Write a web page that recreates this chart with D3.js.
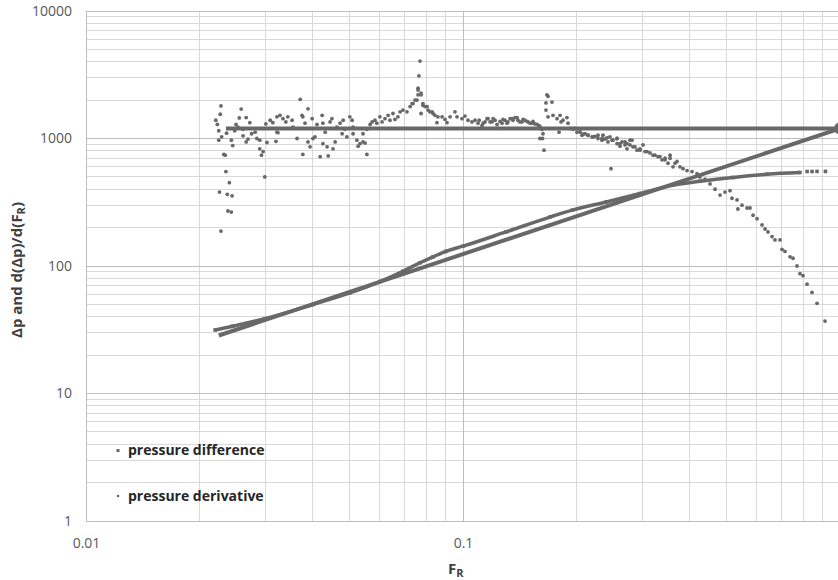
<!DOCTYPE html>
<html>
<head>
<meta charset="utf-8">
<script src="https://cdn.jsdelivr.net/npm/d3@7"></script>
<style>
  body { margin: 0; background: #fff; }
  text { font-family: "Open Sans", "Noto Sans", sans-serif; }
</style>
</head>
<body>
<div id="container"></div>
<script>
// pressure derivative (scattered points)
const derivF = [
  0.0221, 0.0223, 0.0228, 0.0227, 0.0225, 0.0225, 0.0229, 0.0232, 0.0234, 0.0235,
  0.0226, 0.0240, 0.0237, 0.0244, 0.0238, 0.0243, 0.0228, 0.0236, 0.0243, 0.0245,
  0.0250, 0.0248, 0.0258, 0.0255, 0.0253, 0.0261, 0.0266, 0.0269, 0.0266, 0.0272,
  0.0261, 0.0275, 0.0281, 0.0284, 0.0289, 0.0292, 0.0295, 0.0289, 0.0298, 0.0302,
  0.0300, 0.0308, 0.0313, 0.0321, 0.0327, 0.0321, 0.0323, 0.0319, 0.0333, 0.0339,
  0.0343, 0.0352, 0.0354, 0.0363, 0.0370, 0.0374, 0.0376, 0.0381, 0.0388, 0.0388,
  0.0376, 0.0393, 0.0398, 0.0400, 0.0405, 0.0410, 0.0418, 0.0423, 0.0425, 0.0431,
  0.0425, 0.0439, 0.0436, 0.0444, 0.0449, 0.0452, 0.0458, 0.0463, 0.0472, 0.0478,
  0.0481, 0.0486, 0.0492, 0.0501, 0.0508, 0.0511, 0.0511, 0.0523, 0.0527, 0.0533,
  0.0543, 0.0550, 0.0556, 0.0543, 0.0556, 0.0567, 0.0574, 0.0584, 0.0591, 0.0602,
  0.0610, 0.0621, 0.0633, 0.0640, 0.0652, 0.0660, 0.0672, 0.0681, 0.0693, 0.0710,
  0.0724, 0.0737, 0.0755, 0.0760, 0.0760, 0.0774, 0.0783, 0.0803, 0.0774, 0.0817,
  0.0833, 0.0853, 0.0858,
  0.0769, 0.0764, 0.0760, 0.0774, 0.0746, 0.0733, 0.0783, 0.0793, 0.0808, 0.0828,
  0.0843, 0.0880, 0.0896, 0.0907, 0.0924, 0.0952, 0.0964, 0.0994, 0.1012, 0.1031,
  0.1056, 0.1076, 0.1096, 0.1123, 0.1144, 0.1165, 0.1194, 0.1216, 0.1238, 0.1269,
  0.1292, 0.1316, 0.1349, 0.1374, 0.1399, 0.1434, 0.1460, 0.1487, 0.1524, 0.1552,
  0.1591, 0.1620, 0.1630, 0.1600, 0.1625, 0.1640, 0.1670, 0.1681, 0.1660, 0.1722,
  0.1660, 0.1681, 0.1733, 0.1776, 0.1809, 0.1842, 0.1887, 0.1820, 0.1899, 0.1798,
  0.1922, 0.1958, 0.2006, 0.2044, 0.2069, 0.2107, 0.2146, 0.2199, 0.2239, 0.2281,
  0.2337, 0.2380, 0.2424, 0.2469, 0.2500, 0.2562, 0.2609, 0.2690, 0.2723, 0.2773,
  0.2824, 0.2894,
  0.1104, 0.1131, 0.1158, 0.1180, 0.1202, 0.1231, 0.1254, 0.1277, 0.1308, 0.1333,
  0.1357, 0.1391, 0.1416, 0.1443, 0.1478, 0.1506, 0.1534, 0.1572, 0.1601,
  0.1982, 0.2044, 0.2081, 0.2146, 0.2213, 0.2281, 0.2337, 0.2410, 0.2485, 0.2562,
  0.2609, 0.2690, 0.2773, 0.2859, 0.2948, 0.3039, 0.3133, 0.3230, 0.3330, 0.3435,
  0.3542, 0.3651,
  0.2352, 0.2454, 0.2562, 0.2641, 0.2723, 0.2807, 0.2948, 0.3003, 0.3077, 0.3192,
  0.3291, 0.3373, 0.3435, 0.3499, 0.3542, 0.3606, 0.3696, 0.3764, 0.3834, 0.3929,
  0.4050, 0.4176, 0.4253, 0.4385, 0.4521, 0.4662, 0.4806, 0.4955, 0.5109, 0.5171,
  0.5332, 0.5360, 0.5497, 0.5668, 0.5773, 0.5880, 0.6025, 0.6212, 0.6327, 0.6442,
  0.6602, 0.6723, 0.6932, 0.7018, 0.7147, 0.7368, 0.7505, 0.7690, 0.7833, 0.7978,
  0.8176, 0.8430, 0.8690, 0.9125
];
const derivP = [
  1390, 1290, 1800, 1550, 970, 1150, 1030, 750, 740, 550,
  380, 450, 365, 355, 270, 265, 188, 1100, 970, 880,
  1290, 1150, 1700, 1450, 1230, 1050, 940, 990, 1460, 1330,
  1180, 1090, 1120, 1000, 830, 740, 790, 970, 500, 930,
  1300, 1390, 1330, 1480, 1520, 1120, 1110, 950, 1430, 1350,
  1480, 1390, 1230, 1000, 2030, 1520, 1480, 1320, 1710, 940,
  750, 860, 1430, 1000, 1030, 1290, 720, 1520, 1320, 1120,
  910, 730, 860, 1350, 1430, 830, 940, 1230, 1320, 1090,
  1390, 1180, 1030, 1480, 1390, 1230, 1090, 970, 870, 910,
  940, 920, 750, 1090, 1180, 1290, 1350, 1390, 1320, 1480,
  1350, 1430, 1520, 1390, 1570, 1410, 1480, 1620, 1670, 1620,
  1780, 1880, 2000, 2400, 2200, 2200, 1820, 1780, 1570, 1620,
  1570, 1330, 1480,
  4050, 3100, 2480, 2270, 2000, 1880, 1880, 1780, 1670, 1620,
  1520, 1480, 1410, 1330, 1480, 1620, 1480, 1430, 1500, 1390,
  1350, 1390, 1320, 1260, 1350, 1430, 1350, 1390, 1200, 1320,
  1390, 1350, 1430, 1460, 1390, 1350, 1390, 1350, 1320, 1300,
  1260, 1180, 1090, 1000, 1000, 810, 2200, 2140, 1900, 1930,
  1670, 1480, 1520, 1430, 1520, 1390, 1460, 1350, 1320, 1120,
  1200, 1180, 1120, 1180, 1060, 1090, 1060, 1030, 1040, 1000,
  970, 990, 940, 580, 970, 910, 870, 890, 830, 970,
  860, 810,
  1390, 1320, 1430, 1350, 1430, 1290, 1360, 1410, 1320, 1430,
  1390, 1460, 1350, 1410, 1360, 1320, 1360, 1290, 1240,
  1200, 1120, 1080, 1060, 1030, 1060, 1000, 1010, 970, 1000,
  910, 940, 890, 860, 830, 790, 770, 740, 720, 680,
  700, 640,
  1060, 1030, 1000, 940, 910, 970, 810, 890, 790, 740,
  720, 680, 700, 640, 740, 600, 660, 600, 580, 560,
  550, 530, 500, 480, 440, 400, 360, 380, 390, 340,
  330, 280, 300, 285, 285, 250, 235, 210, 195, 185,
  170, 160, 160, 135, 130, 118, 115, 100, 87, 84,
  72, 62, 51, 37
];

// pressure difference (dense points)
const diffF = [0.0220, 0.0245, 0.0298, 0.0400, 0.0501, 0.0602, 0.0693, 0.0769, 0.0833,
  0.0900, 0.1000, 0.1300, 0.1700, 0.1950, 0.2400, 0.2950, 0.3600, 0.4250, 0.5200,
  0.6400, 0.7830, 0.8180, 0.8430, 0.8690, 0.9150];
const diffP = [31.5, 33.7, 38.6, 49.9, 61.5, 75.5, 91, 106, 118,
  130, 143, 185, 242, 274, 318, 370, 430, 462, 495,
  525, 541, 551, 551, 552, 552];
const diffTailCount = 4;

// fitted lines
const flatLineF = [0.0235, 1.0];
const flatLineP = [1200, 1200];
const slopeLineF = [0.0225, 1.0];
const slopeLineP = [28.5, 1200];

const xTicks = [0.01, 0.1];
const yTicks = [1, 10, 100, 1000, 10000];
const legendLabels = ["pressure difference", "pressure derivative"];

const width = 838, height = 580;
const ink = "#686868";

const svg = d3.select("#container")
  .append("svg")
  .attr("width", width)
  .attr("height", height);

const x = d3.scaleLog().domain([0.01, 1]).range([86, 840]);
const y = d3.scaleLog().domain([1, 10000]).range([521, 11]);

// gridlines
const minorX = [], minorY = [];
[0.01, 0.1].forEach(d => { for (let k = 2; k <= 9; k++) minorX.push(d * k); });
[1, 10, 100, 1000].forEach(d => { for (let k = 2; k <= 9; k++) minorY.push(d * k); });

const grid = svg.append("g");
grid.selectAll(".vminor").data(minorX).enter().append("line")
  .attr("x1", d => x(d)).attr("x2", d => x(d))
  .attr("y1", y(1)).attr("y2", y(10000))
  .attr("stroke", "#d9d9d9").attr("stroke-width", 1);
grid.selectAll(".hminor").data(minorY).enter().append("line")
  .attr("x1", x(0.01)).attr("x2", x(1))
  .attr("y1", d => y(d)).attr("y2", d => y(d))
  .attr("stroke", "#d9d9d9").attr("stroke-width", 1);
grid.selectAll(".vmajor").data([0.01, 0.1, 1]).enter().append("line")
  .attr("x1", d => x(d)).attr("x2", d => x(d))
  .attr("y1", y(1)).attr("y2", y(10000))
  .attr("stroke", "#bdbdbd").attr("stroke-width", 1);
grid.selectAll(".hmajor").data(yTicks).enter().append("line")
  .attr("x1", x(0.01)).attr("x2", x(1))
  .attr("y1", d => y(d)).attr("y2", d => y(d))
  .attr("stroke", "#bdbdbd").attr("stroke-width", 1);
grid.selectAll("line").attr("shape-rendering", "crispEdges");

// axes
const xAxis = svg.append("g")
  .attr("transform", `translate(0,${y(1)})`)
  .call(d3.axisBottom(x).tickValues(xTicks).tickSize(0).tickPadding(17)
    .tickFormat(d3.format("")));
const yAxis = svg.append("g")
  .attr("transform", `translate(${x(0.01)},0)`)
  .call(d3.axisLeft(y).tickValues(yTicks).tickSize(0).tickPadding(14)
    .tickFormat(d3.format("d")));
[xAxis, yAxis].forEach(a => {
  a.select(".domain").remove();
  a.selectAll("text")
    .style("font-size", "14px")
    .style("font-family", "'Open Sans', sans-serif")
    .attr("fill", "#595959");
});

// lines
const line = d3.line().x(d => x(d[0])).y(d => y(d[1]));

svg.append("path")
  .datum(flatLineF.map((f, i) => [f, flatLineP[i]]))
  .attr("fill", "none").attr("stroke", ink).attr("stroke-width", 4)
  .attr("d", line);

svg.append("path")
  .datum(slopeLineF.map((f, i) => [f, slopeLineP[i]]))
  .attr("fill", "none").attr("stroke", ink).attr("stroke-width", 4)
  .attr("d", line);

svg.append("circle")
  .attr("cx", x(slopeLineF[1])).attr("cy", y(slopeLineP[1]))
  .attr("r", 6).attr("fill", ink);

// pressure difference
const diffPts = diffF.map((f, i) => [f, diffP[i]]);
svg.append("path")
  .datum(diffPts.slice(0, diffPts.length - diffTailCount))
  .attr("fill", "none").attr("stroke", ink).attr("stroke-width", 3.5)
  .attr("stroke-linejoin", "round")
  .attr("d", d3.line().x(d => x(d[0])).y(d => y(d[1])).curve(d3.curveMonotoneX));

svg.selectAll(".diff")
  .data(diffPts)
  .enter()
  .append("rect")
  .attr("x", d => x(d[0]) - 1.8)
  .attr("y", d => y(d[1]) - 1.8)
  .attr("width", 3.6).attr("height", 3.6)
  .attr("fill", ink);

// pressure derivative
svg.selectAll(".deriv")
  .data(derivF.map((f, i) => [f, derivP[i]]))
  .enter()
  .append("circle")
  .attr("cx", d => x(d[0]))
  .attr("cy", d => y(d[1]))
  .attr("r", 1.9)
  .attr("fill", ink);

// legend
const legend = svg.append("g");
legend.append("rect")
  .attr("x", 116.5).attr("y", 449).attr("width", 3).attr("height", 3)
  .attr("fill", ink);
legend.append("circle")
  .attr("cx", 118).attr("cy", 496).attr("r", 1.3)
  .attr("fill", ink);
legend.selectAll("text")
  .data(legendLabels)
  .enter()
  .append("text")
  .attr("x", 128)
  .attr("y", (d, i) => 455 + i * 46)
  .style("font-size", "14px")
  .style("font-weight", "bold")
  .attr("fill", "#262626")
  .text(d => d);

// axis titles
const xTitle = svg.append("text")
  .attr("x", 448)
  .attr("y", 574)
  .style("font-size", "15px")
  .style("font-weight", "bold")
  .attr("fill", "#404040");
xTitle.append("tspan").text("F");
xTitle.append("tspan").attr("dy", 3).style("font-size", "11px").text("R");

const yTitle = svg.append("text")
  .attr("transform", "translate(22,270) rotate(-90)")
  .attr("text-anchor", "middle")
  .style("font-size", "15px")
  .style("font-weight", "bold")
  .attr("fill", "#404040");
yTitle.append("tspan").text("Δp and d(Δp)/d(F");
yTitle.append("tspan").attr("dy", 3).style("font-size", "11px").text("R");
yTitle.append("tspan").attr("dy", -3).text(")");
</script>
</body>
</html>
